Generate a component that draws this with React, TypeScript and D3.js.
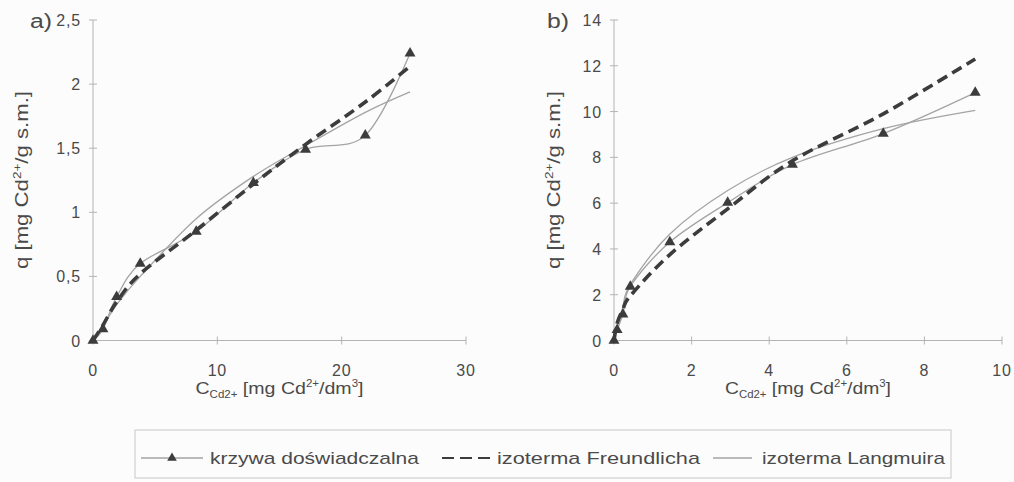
import * as d3 from "d3";

// a) panel – concentration [mg/dm3] and sorbed amount [mg/g]
const leftC = [0, 0.8, 1.9, 3.8, 8.3, 12.9, 17.1, 21.9, 25.5];
const leftExp = [0, 0.09, 0.34, 0.6, 0.85, 1.23, 1.49, 1.6, 2.24];
const leftFreundlich = [0, 0.12, 0.3, 0.52, 0.86, 1.22, 1.53, 1.86, 2.14];
const leftLangmuir = [0, 0.11, 0.28, 0.5, 0.95, 1.28, 1.52, 1.78, 1.94];
const leftXTicks = [0, 10, 20, 30];
const leftYTicks = [0, 0.5, 1, 1.5, 2, 2.5];

// b) panel
const rightC = [0, 0.08, 0.23, 0.42, 1.44, 2.93, 4.6, 6.94, 9.31];
const rightExp = [0, 0.47, 1.14, 2.36, 4.3, 6.02, 7.68, 9.04, 10.83];
const rightFreundlich = [0, 0.75, 1.35, 1.95, 3.75, 5.75, 7.85, 9.9, 12.3];
const rightLangmuir = [0, 0.55, 1.45, 2.45, 4.65, 6.55, 8.0, 9.25, 10.05];
const rightXTicks = [0, 2, 4, 6, 8, 10];
const rightYTicks = [0, 2, 4, 6, 8, 10, 12, 14];

const legendLabels = ["krzywa doświadczalna", "izoterma Freundlicha", "izoterma Langmuira"];

const FONT = "'Liberation Sans', Arial, sans-serif";
const TEXT = "#4a4a4a";
const AXIS = "#b4b4b4";
const THIN = "#a4a4a4";
const DARK = "#3c3c3c";

const fmt = (v: number) => String(v).replace(".", ",");

type PanelProps = {
  tag: string;
  tagX: number;
  x0: number;
  x1: number;
  xMax: number;
  yMax: number;
  xs: number[];
  exp: number[];
  fr: number[];
  la: number[];
  xTicks: number[];
  yTicks: number[];
  yLabelX: number;
  yLabelLen: number;
  xLabelLen: number;
};

const Panel = (p: PanelProps) => {
  const x = d3.scaleLinear().domain([0, p.xMax]).range([p.x0, p.x1]);
  const y = d3.scaleLinear().domain([0, p.yMax]).range([340.5, 20]);
  const line = d3
    .line<number>()
    .x((_, i) => x(p.xs[i]))
    .y((d) => y(d))
    .curve(d3.curveCardinal.tension(0));
  const tri = d3.symbol(d3.symbolTriangle, 52)() || "";
  const midX = (p.x0 + p.x1) / 2;

  return (
    <g>
      {/* axes */}
      <line x1={p.x0} x2={p.x0} y1={y(p.yMax)} y2={y(0)} stroke={AXIS} />
      <line x1={p.x0} x2={p.x1} y1={y(0)} y2={y(0)} stroke={AXIS} />
      {p.yTicks.map((t) => (
        <g key={"y" + t}>
          <line x1={p.x0 - 4} x2={p.x0 + 4} y1={y(t)} y2={y(t)} stroke={AXIS} />
          <text
            x={p.x0 - 12}
            y={y(t) + 6}
            textAnchor="end"
            fontSize={16}
            letterSpacing={0.8}
            fill={TEXT}
          >
            {fmt(t)}
          </text>
        </g>
      ))}
      {p.xTicks.map((t) => (
        <g key={"x" + t}>
          <line x1={x(t)} x2={x(t)} y1={y(0) - 4} y2={y(0) + 4} stroke={AXIS} />
          <text x={x(t)} y={376} textAnchor="middle" fontSize={16} letterSpacing={0.8} fill={TEXT}>
            {fmt(t)}
          </text>
        </g>
      ))}

      {/* series */}
      <path d={line(p.la) || ""} fill="none" stroke={THIN} strokeWidth={1.3} />
      <path d={line(p.exp) || ""} fill="none" stroke={THIN} strokeWidth={1.3} />
      {p.exp.map((v, i) => (
        <path key={i} d={tri} transform={`translate(${x(p.xs[i])},${y(v)})`} fill={DARK} />
      ))}
      <path
        d={line(p.fr) || ""}
        fill="none"
        stroke={DARK}
        strokeWidth={3.6}
        strokeDasharray="11,6"
      />

      {/* labels */}
      <text x={p.tagX} y={28} fontSize={20} fill={TEXT} textLength={22} lengthAdjust="spacingAndGlyphs">
        {p.tag}
      </text>
      <text
        transform={`translate(${p.yLabelX},${180}) rotate(-90)`}
        textAnchor="middle"
        fontSize={18}
        fill={TEXT}
        textLength={p.yLabelLen}
        lengthAdjust="spacingAndGlyphs"
      >
        q [mg Cd
        <tspan fontSize={11} dy={-7}>2+</tspan>
        <tspan dy={7}>/g s.m.]</tspan>
      </text>
      <text
        x={midX}
        y={394}
        textAnchor="middle"
        fontSize={17}
        fill={TEXT}
        textLength={p.xLabelLen}
        lengthAdjust="spacingAndGlyphs"
      >
        C
        <tspan fontSize={10} dy={4}>Cd2+</tspan>
        <tspan dy={-4}> [mg Cd</tspan>
        <tspan fontSize={10} dy={-7}>2+</tspan>
        <tspan dy={7}>/dm</tspan>
        <tspan fontSize={10} dy={-7}>3</tspan>
        <tspan dy={7}>]</tspan>
      </text>
    </g>
  );
};

const Legend = () => {
  const cy = 458;
  const tri = d3.symbol(d3.symbolTriangle, 40)() || "";
  return (
    <g>
      <rect x={135} y={430} width={816} height={48} fill="none" stroke="#c8c8c8" />
      <line x1={141} x2={203} y1={cy} y2={cy} stroke={THIN} strokeWidth={1.3} />
      <path d={tri} transform={`translate(172,${cy})`} fill={DARK} />
      <text x={210} y={cy + 6} fontSize={17} fill={TEXT} textLength={209} lengthAdjust="spacingAndGlyphs">
        {legendLabels[0]}
      </text>
      <line x1={442} x2={490} y1={cy} y2={cy} stroke={DARK} strokeWidth={2} strokeDasharray="12,6" />
      <text x={497} y={cy + 6} fontSize={17} fill={TEXT} textLength={203} lengthAdjust="spacingAndGlyphs">
        {legendLabels[1]}
      </text>
      <line x1={713} x2={752} y1={cy} y2={cy} stroke={THIN} strokeWidth={1.3} />
      <text x={762} y={cy + 6} fontSize={17} fill={TEXT} textLength={183} lengthAdjust="spacingAndGlyphs">
        {legendLabels[2]}
      </text>
    </g>
  );
};

export default function App() {
  return (
    <svg
      width={1014}
      height={482}
      style={{ position: "absolute", left: 0, top: 0, display: "block" }}
      fontFamily={FONT}
    >
      <rect width={1014} height={482} fill="#fcfcfc" />
      <Panel
        tag="a)"
        tagX={30}
        x0={93}
        x1={466}
        xMax={30}
        yMax={2.5}
        xs={leftC}
        exp={leftExp}
        fr={leftFreundlich}
        la={leftLangmuir}
        xTicks={leftXTicks}
        yTicks={leftYTicks}
        yLabelX={28}
        yLabelLen={178}
        xLabelLen={168}
      />
      <Panel
        tag="b)"
        tagX={547}
        x0={614}
        x1={1002}
        xMax={10}
        yMax={14}
        xs={rightC}
        exp={rightExp}
        fr={rightFreundlich}
        la={rightLangmuir}
        xTicks={rightXTicks}
        yTicks={rightYTicks}
        yLabelX={560}
        yLabelLen={178}
        xLabelLen={166}
      />
      <Legend />
    </svg>
  );
}
